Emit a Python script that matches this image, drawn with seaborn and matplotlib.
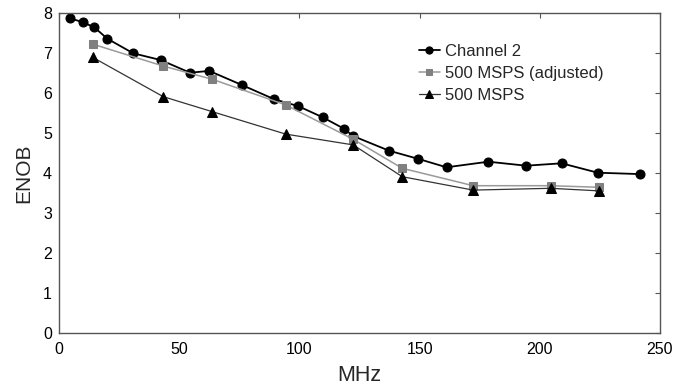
import matplotlib
matplotlib.use("Agg")
import matplotlib.pyplot as plt
import seaborn as sns
import pandas as pd

ch2_mhz = [4.6, 9.8, 14.7, 20.1, 30.9, 42.4, 54.5, 62.5, 76.0, 89.6, 99.5, 109.7,
           118.7, 122.4, 137.3, 149.5, 161.2, 178.6, 194.3, 209.1, 224.1, 241.7]
ch2_enob = [7.875, 7.78, 7.65, 7.365, 7.0, 6.83, 6.515, 6.56, 6.21, 5.85, 5.68, 5.4,
            5.11, 4.93, 4.565, 4.36, 4.15, 4.29, 4.19, 4.25, 4.015, 3.98]

msps_mhz = [14.0, 43.4, 63.8, 94.3, 122.4, 142.8, 172.3, 204.5, 224.8]
adj_enob = [7.23, 6.68, 6.35, 5.71, 4.85, 4.125, 3.69, 3.69, 3.65]
msps_enob = [6.9, 5.915, 5.54, 4.98, 4.71, 3.915, 3.58, 3.625, 3.56]

series_names = ["Channel 2", "500 MSPS (adjusted)", "500 MSPS"]
x_ticks = [0, 50, 100, 150, 200, 250]
y_ticks = [0, 1, 2, 3, 4, 5, 6, 7, 8]

sns.set_theme(style="white")
plt.rcParams["font.family"] = ["Liberation Sans", "DejaVu Sans"]

fig = plt.figure(figsize=(6.9, 3.88), dpi=100)
ax = fig.add_axes([0.0855, 0.141, 0.871, 0.8247])

sns.lineplot(x=ch2_mhz, y=ch2_enob, ax=ax, color="black", lw=1.3, marker="o",
             markersize=6.5, markeredgecolor="black", markerfacecolor="black",
             sort=False, label=series_names[0])
sns.lineplot(x=msps_mhz, y=adj_enob, ax=ax, color="#9a9a9a", lw=1.1, marker="s",
             markersize=5.5, markeredgecolor="#808080", markerfacecolor="#808080",
             sort=False, label=series_names[1])
sns.lineplot(x=msps_mhz, y=msps_enob, ax=ax, color="#333333", lw=0.9, marker="^",
             markersize=6.5, markeredgecolor="black", markerfacecolor="black",
             sort=False, label=series_names[2])

ax.set_xlim(0, 250)
ax.set_ylim(0, 8)
ax.set_xticks(x_ticks)
ax.set_yticks(y_ticks)
ax.set_xlabel("MHz", fontsize=15.5, labelpad=6)
ax.set_ylabel("ENOB", fontsize=15, labelpad=7)
ax.tick_params(axis="both", which="both", direction="in", length=3.5, width=0.8,
               colors="#555555", labelcolor="black", labelsize=11.5,
               top=True, right=True)
ax.tick_params(axis="x", pad=6)
ax.tick_params(axis="y", pad=5)
for s in ax.spines.values():
    s.set_visible(True)
    s.set_color("#555555")
    s.set_linewidth(1.0)

leg = ax.legend(loc="upper left", bbox_to_anchor=(0.588, 0.925), frameon=False,
                fontsize=12, handlelength=1.25, handletextpad=0.3, labelspacing=0.42,
                borderaxespad=0, markerscale=0.8)

fig.savefig("out.png", dpi=100)
